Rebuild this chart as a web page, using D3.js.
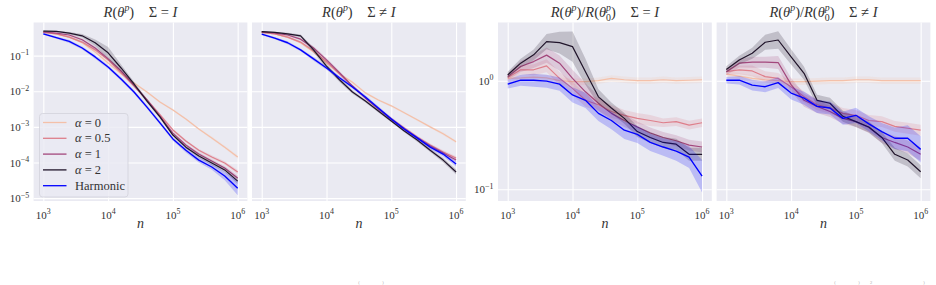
<!DOCTYPE html>
<html>
<head>
<meta charset="utf-8">
<title>Risk vs n</title>
<script src="https://d3js.org/d3.v7.min.js"></script>
<style>
  body { margin: 0; background: #fff; }
  svg { font-family: "Liberation Serif", "DejaVu Serif", serif; }
  text { white-space: pre; }
</style>
</head>
<body>
<svg id="chart" width="936" height="285"></svg>
<script>
// sample sizes (x axis)
const nValues = [1000, 1585, 2512, 3981, 6310, 10000, 15849, 25119, 39811, 63096, 100000, 158489, 251189, 398107, 630957, 1000000];

// series order: alpha = 0, 0.5, 1, 2, Harmonic
const seriesLabels = ["0", "0.5", "1", "2", "Harmonic"];
const seriesColors = ["#f4c0a9", "#de7f8b", "#a3477c", "#20142a", "#0000ff"];

// R(theta^p), Sigma = I
const riskIso = [
  [0.45, 0.41, 0.33, 0.23, 0.127, 0.062, 0.031, 0.017, 0.0095, 0.0050, 0.0030, 0.00167, 8.7e-4, 4.9e-4, 2.7e-4, 1.43e-4],
  [0.45, 0.41, 0.33, 0.24, 0.145, 0.076, 0.033, 0.014, 0.0057, 0.0022, 8.2e-4, 4.0e-4, 2.2e-4, 1.43e-4, 9.7e-5, 5.4e-5],
  [0.46, 0.43, 0.38, 0.28, 0.164, 0.081, 0.037, 0.015, 0.0057, 0.0020, 6.7e-4, 3.1e-4, 1.73e-4, 1.1e-4, 7.0e-5, 3.7e-5],
  [0.49, 0.48, 0.43, 0.36, 0.23, 0.12, 0.045, 0.016, 0.0053, 0.0019, 5.9e-4, 2.7e-4, 1.52e-4, 9.7e-5, 6.2e-5, 3.0e-5],
  [0.41, 0.32, 0.25, 0.164, 0.092, 0.048, 0.022, 0.0095, 0.0036, 0.0013, 4.6e-4, 2.2e-4, 1.17e-4, 7.5e-5, 4.2e-5, 1.9e-5]
];
// R(theta^p), Sigma != I
const riskAniso = [
  [0.45, 0.41, 0.33, 0.23, 0.127, 0.062, 0.031, 0.018, 0.0090, 0.0057, 0.0039, 0.0025, 0.00158, 0.0010, 6.4e-4, 3.8e-4],
  [0.45, 0.41, 0.33, 0.24, 0.136, 0.067, 0.031, 0.014, 0.0065, 0.0032, 0.00167, 9.3e-4, 5.2e-4, 3.1e-4, 1.97e-4, 1.34e-4],
  [0.46, 0.43, 0.38, 0.29, 0.164, 0.076, 0.033, 0.014, 0.0065, 0.0032, 0.00167, 8.7e-4, 4.9e-4, 2.9e-4, 1.85e-4, 1.17e-4],
  [0.47, 0.45, 0.41, 0.36, 0.145, 0.051, 0.021, 0.0095, 0.0053, 0.0028, 0.00147, 7.7e-4, 4.3e-4, 2.2e-4, 1.17e-4, 5.4e-5],
  [0.40, 0.31, 0.23, 0.145, 0.081, 0.045, 0.024, 0.0132, 0.0069, 0.0034, 0.00167, 8.7e-4, 4.9e-4, 2.7e-4, 1.73e-4, 9.1e-5]
];
// R(theta^p)/R(theta^p_0), Sigma = I
const ratioIso = [
  [1.05, 1.06, 1.08, 1.06, 1.0, 0.98, 0.98, 1.0, 1.05, 1.02, 1.0, 1.0, 1.02, 1.0, 1.01, 1.02],
  [1.07, 1.26, 1.26, 1.37, 1.05, 0.85, 0.66, 0.60, 0.52, 0.48, 0.45, 0.43, 0.41, 0.42, 0.39, 0.41],
  [1.09, 1.35, 1.50, 1.72, 1.45, 1.05, 0.79, 0.62, 0.50, 0.43, 0.375, 0.33, 0.30, 0.28, 0.255, 0.245],
  [1.13, 1.45, 1.73, 2.29, 2.24, 2.06, 1.21, 0.71, 0.56, 0.45, 0.34, 0.30, 0.27, 0.26, 0.21, 0.21],
  [0.93, 1.01, 1.01, 0.99, 0.93, 0.74, 0.66, 0.50, 0.43, 0.35, 0.32, 0.27, 0.245, 0.225, 0.198, 0.132]
];
// R(theta^p)/R(theta^p_0), Sigma != I
const ratioAniso = [
  [1.15, 1.10, 1.05, 1.02, 1.0, 0.98, 0.98, 0.99, 1.0, 1.0, 1.02, 1.02, 1.0, 1.0, 1.0, 1.0],
  [1.21, 1.26, 1.23, 1.09, 1.05, 0.88, 0.71, 0.60, 0.56, 0.50, 0.48, 0.43, 0.42, 0.38, 0.365, 0.35],
  [1.21, 1.45, 1.48, 1.48, 1.47, 0.92, 0.66, 0.58, 0.52, 0.45, 0.42, 0.37, 0.30, 0.27, 0.245, 0.21],
  [1.27, 1.55, 1.79, 2.26, 2.37, 1.66, 1.17, 0.66, 0.62, 0.47, 0.42, 0.375, 0.30, 0.21, 0.186, 0.145],
  [1.01, 1.01, 0.91, 0.88, 0.96, 0.77, 0.69, 0.58, 0.56, 0.45, 0.48, 0.40, 0.34, 0.295, 0.295, 0.233]
];

// half width of the shaded bands, in decades
const spreadRiskIso = [
  [0.02, 0.02, 0.02, 0.03, 0.03, 0.03, 0.03, 0.03, 0.03, 0.03, 0.03, 0.03, 0.03, 0.04, 0.04, 0.05],
  [0.02, 0.02, 0.03, 0.03, 0.04, 0.04, 0.04, 0.04, 0.04, 0.04, 0.04, 0.04, 0.04, 0.05, 0.05, 0.06],
  [0.02, 0.02, 0.03, 0.04, 0.05, 0.05, 0.05, 0.05, 0.04, 0.04, 0.04, 0.04, 0.05, 0.05, 0.06, 0.07],
  [0.02, 0.02, 0.03, 0.05, 0.09, 0.16, 0.10, 0.06, 0.05, 0.04, 0.04, 0.04, 0.05, 0.06, 0.06, 0.08],
  [0.03, 0.03, 0.04, 0.04, 0.05, 0.05, 0.05, 0.05, 0.05, 0.05, 0.05, 0.06, 0.07, 0.08, 0.12, 0.20]
];
const spreadRiskAniso = [
  [0.02, 0.02, 0.02, 0.03, 0.03, 0.03, 0.03, 0.03, 0.03, 0.03, 0.03, 0.03, 0.03, 0.03, 0.04, 0.04],
  [0.02, 0.02, 0.03, 0.03, 0.04, 0.04, 0.04, 0.04, 0.04, 0.04, 0.04, 0.04, 0.04, 0.04, 0.05, 0.05],
  [0.02, 0.02, 0.03, 0.04, 0.05, 0.05, 0.05, 0.04, 0.04, 0.04, 0.04, 0.04, 0.04, 0.05, 0.05, 0.05],
  [0.02, 0.02, 0.03, 0.04, 0.07, 0.07, 0.06, 0.05, 0.04, 0.04, 0.04, 0.04, 0.05, 0.05, 0.06, 0.07],
  [0.03, 0.03, 0.04, 0.04, 0.05, 0.05, 0.05, 0.05, 0.05, 0.05, 0.05, 0.05, 0.05, 0.06, 0.06, 0.07]
];
const spreadRatioIso = [
  [0.03, 0.03, 0.03, 0.03, 0.03, 0.03, 0.03, 0.03, 0.03, 0.03, 0.03, 0.03, 0.03, 0.03, 0.03, 0.03],
  [0.03, 0.04, 0.05, 0.06, 0.06, 0.06, 0.06, 0.06, 0.06, 0.05, 0.05, 0.05, 0.04, 0.04, 0.04, 0.04],
  [0.03, 0.05, 0.06, 0.07, 0.07, 0.08, 0.08, 0.07, 0.06, 0.06, 0.05, 0.05, 0.05, 0.05, 0.05, 0.05],
  [0.03, 0.04, 0.05, 0.07, 0.10, 0.14, 0.12, 0.07, 0.05, 0.05, 0.05, 0.05, 0.05, 0.05, 0.06, 0.06],
  [0.04, 0.05, 0.06, 0.06, 0.06, 0.07, 0.07, 0.07, 0.08, 0.08, 0.08, 0.08, 0.08, 0.09, 0.10, 0.15]
];
const spreadRatioAniso = [
  [0.03, 0.03, 0.03, 0.03, 0.03, 0.03, 0.03, 0.03, 0.03, 0.03, 0.03, 0.03, 0.03, 0.03, 0.03, 0.03],
  [0.03, 0.04, 0.05, 0.05, 0.05, 0.05, 0.05, 0.05, 0.05, 0.05, 0.05, 0.05, 0.05, 0.05, 0.05, 0.05],
  [0.03, 0.04, 0.05, 0.05, 0.06, 0.06, 0.06, 0.06, 0.05, 0.05, 0.05, 0.05, 0.05, 0.06, 0.06, 0.06],
  [0.03, 0.04, 0.05, 0.07, 0.08, 0.07, 0.06, 0.05, 0.05, 0.05, 0.05, 0.05, 0.05, 0.06, 0.06, 0.06],
  [0.03, 0.04, 0.05, 0.05, 0.05, 0.06, 0.06, 0.06, 0.06, 0.06, 0.07, 0.07, 0.08, 0.10, 0.12, 0.12]
];

// tick values and their exponent labels
const xTicks = [1e3, 1e4, 1e5, 1e6];
const xTickExp = ["3", "4", "5", "6"];
const riskTicks = [1e-5, 1e-4, 1e-3, 1e-2, 1e-1];
const riskTickExp = ["\u22125", "\u22124", "\u22123", "\u22122", "\u22121"];
const ratioTicks = [1e-1, 1e0];
const ratioTickExp = ["\u22121", "0"];

// title pieces: [text, kind]
const titleRisk = [["R", "i"], ["("], ["\u03b8", "i"], ["p", "sup"], [")"], ["    \u03a3 "]];
const titleRatio = [["R", "i"], ["("], ["\u03b8", "i"], ["p", "sup"], [")/"], ["R", "i"], ["("], ["\u03b8", "i"], ["p", "sup"], ["0", "sub"], [")"], ["    \u03a3 "]];

// layout
const plotTop = 22.5, plotBottom = 201, panelW = 213.8;
const panelLefts = [33.6, 252, 498, 716.6];
const xDomain = [10 ** 2.85, 10 ** 6.15];

const panels = [
  {data: riskIso, spread: spreadRiskIso, title: titleRisk, rel: "=", yDomain: [10 ** -5.08, 10 ** -0.07], yTicks: riskTicks, yExp: riskTickExp, yLabels: true, legend: true},
  {data: riskAniso, spread: spreadRiskAniso, title: titleRisk, rel: "\u2260", yDomain: [10 ** -5.08, 10 ** -0.07], yTicks: riskTicks, yExp: riskTickExp, yLabels: false},
  {data: ratioIso, spread: spreadRatioIso, title: titleRatio, rel: "=", yDomain: [10 ** -1.108, 10 ** 0.536], yTicks: ratioTicks, yExp: ratioTickExp, yLabels: true},
  {data: ratioAniso, spread: spreadRatioAniso, title: titleRatio, rel: "\u2260", yDomain: [10 ** -1.108, 10 ** 0.536], yTicks: ratioTicks, yExp: ratioTickExp, yLabels: false}
];

const svg = d3.select("#chart");
const defs = svg.append("defs");

// writes math-like pieces into a text element using tspans
function richText(textSel, pieces, size) {
  let shift = 0;
  pieces.forEach(([s, kind]) => {
    const t = textSel.append("tspan").text(s);
    let target = 0, fs = size;
    if (kind === "sup") { target = -size * 0.4; fs = size * 0.68; t.attr("font-style", "italic"); }
    if (kind === "sub") { target = size * 0.28; fs = size * 0.68; t.attr("dx", -size * 0.34); }
    if (kind === "i") t.attr("font-style", "italic");
    t.attr("font-size", fs);
    if (target - shift !== 0) t.attr("dy", target - shift);
    shift = target;
  });
}

function powerLabel(textSel, exp, size) {
  textSel.append("tspan").attr("font-size", size).text("10");
  textSel.append("tspan").attr("font-size", size * 0.72).attr("dy", -size * 0.42).text(exp);
}

panels.forEach((p, pi) => {
  const left = panelLefts[pi], right = left + panelW;
  const x = d3.scaleLog().domain(xDomain).range([left, right]);
  const y = d3.scaleLog().domain(p.yDomain).range([plotBottom, plotTop]);
  const g = svg.append("g");

  g.append("rect")
    .attr("x", left).attr("y", plotTop)
    .attr("width", panelW).attr("height", plotBottom - plotTop)
    .attr("fill", "#eaeaf2");

  // gridlines
  g.append("g")
    .attr("transform", `translate(0,${plotBottom})`)
    .call(d3.axisBottom(x).tickValues(xTicks).tickSize(-(plotBottom - plotTop)).tickFormat(""))
    .call(a => a.select(".domain").remove())
    .call(a => a.selectAll("line").attr("stroke", "#fff").attr("stroke-width", 1.1));
  g.append("g")
    .attr("transform", `translate(${left},0)`)
    .call(d3.axisLeft(y).tickValues(p.yTicks).tickSize(-panelW).tickFormat(""))
    .call(a => a.select(".domain").remove())
    .call(a => a.selectAll("line").attr("stroke", "#fff").attr("stroke-width", 1.1));

  // x tick labels
  xTicks.forEach((t, i) => {
    const txt = g.append("text")
      .attr("x", x(t)).attr("y", 219)
      .attr("text-anchor", "middle").attr("fill", "#333");
    powerLabel(txt, xTickExp[i], 11);
  });
  // y tick labels
  if (p.yLabels) {
    p.yTicks.forEach((t, i) => {
      const txt = g.append("text")
        .attr("x", left - 4.5).attr("y", y(t) + 4)
        .attr("text-anchor", "end").attr("fill", "#333");
      powerLabel(txt, p.yExp[i], 11);
    });
  }

  // axis label
  g.append("text")
    .attr("x", left + panelW / 2).attr("y", 228)
    .attr("text-anchor", "middle")
    .attr("font-size", 14).attr("font-style", "italic").attr("fill", "#333")
    .text("n");

  // title
  const title = g.append("text")
    .attr("x", left + panelW / 2).attr("y", 17)
    .attr("text-anchor", "middle").attr("fill", "#333");
  richText(title, p.title.concat([[p.rel + " "], ["I", "i"]]), 14.5);

  // bands and lines
  const clipId = "clip" + pi;
  defs.append("clipPath").attr("id", clipId)
    .append("rect").attr("x", left).attr("y", plotTop)
    .attr("width", panelW).attr("height", plotBottom - plotTop);
  const plot = g.append("g").attr("clip-path", `url(#${clipId})`);

  p.data.forEach((vals, si) => {
    const pts = vals.map((v, i) => ({n: nValues[i], v: v, s: p.spread[si][i]}));
    const area = d3.area()
      .x(d => x(d.n))
      .y0(d => y(d.v / 10 ** d.s))
      .y1(d => y(d.v * 10 ** d.s));
    plot.append("path")
      .datum(pts)
      .attr("d", area)
      .attr("fill", seriesColors[si])
      .attr("fill-opacity", si === 0 ? 0.18 : 0.2);
    const line = d3.line().x(d => x(d.n)).y(d => y(d.v));
    plot.append("path")
      .datum(pts)
      .attr("d", line)
      .attr("fill", "none")
      .attr("stroke", seriesColors[si])
      .attr("stroke-width", si === 4 ? 1.35 : 1.2)
      .attr("stroke-linejoin", "round");
  });

  if (p.legend) {
    const lg = g.append("g");
    lg.append("rect")
      .attr("x", 39.5).attr("y", 113.5).attr("width", 88.5).attr("height", 83.5)
      .attr("rx", 3)
      .attr("fill", "#eaeaf2").attr("fill-opacity", 0.8)
      .attr("stroke", "#d2d2da").attr("stroke-width", 0.8);
    seriesLabels.forEach((lab, i) => {
      const yy = 122.5 + i * 15.8;
      lg.append("line")
        .attr("x1", 43).attr("x2", 66.5).attr("y1", yy).attr("y2", yy)
        .attr("stroke", seriesColors[i]).attr("stroke-width", 1.3);
      const txt = lg.append("text")
        .attr("x", 75).attr("y", yy + 4).attr("fill", "#333");
      if (lab === "Harmonic") {
        txt.attr("font-size", 12.5).text(lab);
      } else {
        richText(txt, [["\u03b1", "i"], [" = " + lab]], 12.5);
      }
    });
  }
});

// tips of a caption that is mostly outside the image, kept small so they fit
const captionBits = [["(", 359], [")", 383], ["(", 835], [")", 859], ["2", 871], [")", 924]];
captionBits.forEach(([s, cx]) => {
  svg.append("text").attr("x", cx).attr("y", 283.5)
    .attr("text-anchor", "middle").attr("font-size", 4.5).attr("fill", "#aaa")
    .text(s);
});
</script>
</body>
</html>
